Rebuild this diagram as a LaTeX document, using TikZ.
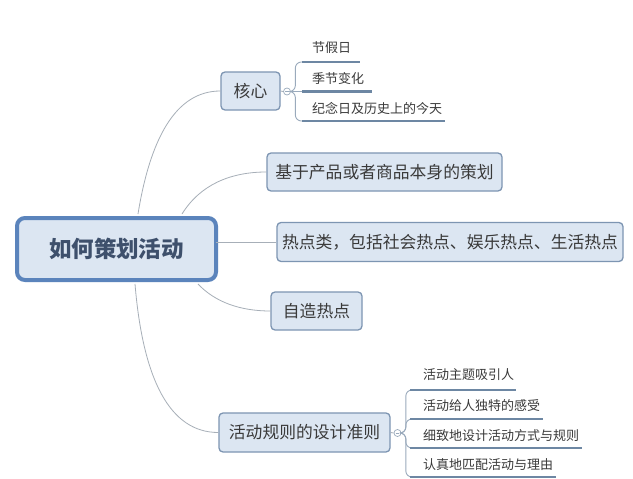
\documentclass[tikz,border=0pt]{standalone}
\usepackage{fontspec}
\newfontfamily\cjk{Noto Sans CJK SC}
\usetikzlibrary{calc}
\definecolor{boxfill}{HTML}{DCE6F2}
\definecolor{boxline}{HTML}{7D95B2}
\definecolor{mainline}{HTML}{5B84BC}
\definecolor{conn}{HTML}{A7AFB8}
\definecolor{fork}{HTML}{9AAABC}
\definecolor{uline}{HTML}{6D87A3}
\definecolor{txt}{HTML}{3A3A3A}
\definecolor{maintxt}{HTML}{3E506C}
\tikzset{
  topic/.style={draw=boxline, fill=boxfill, line width=1.3pt, rounded corners=4pt,
    inner sep=0pt, text=txt, font=\cjk\fontsize{16.8}{18}\selectfont},
  central/.style={draw=mainline, fill=boxfill, line width=4pt, rounded corners=8pt,
    inner sep=0pt, text=maintxt, font=\cjk\bfseries\fontsize{22.5}{24}\selectfont},
  sub/.style={anchor=west, inner sep=0pt, text=txt, font=\cjk\fontsize{13}{14}\selectfont},
  connector/.style={draw=conn, line width=0.8pt},
  forkline/.style={draw=fork, line width=0.9pt, rounded corners=6pt},
  under/.style={draw=uline, line width=2.3pt},
  toggle/.style={circle, draw=fork, fill=white, line width=0.7pt, minimum size=7pt, inner sep=0pt}
}
\begin{document}
\begin{tikzpicture}[x=1pt,y=-1pt]
\useasboundingbox (0,0) rectangle (633,479);
\fill[white] (0,0) rectangle (633,479);

% central
\node[central, minimum width=199pt, minimum height=62pt] (c) at (116.5,249) {如何策划活动};

% main topics
\node[topic, minimum width=59pt, minimum height=38pt] (core) at (250.5,91) {核心};
\node[topic, minimum width=235pt, minimum height=38pt] (base) at (384.5,172) {基于产品或者商品本身的策划};
\node[topic, minimum width=346pt, minimum height=39pt] (hot) at (450,242) {热点类，包括社会热点、娱乐热点、生活热点};
\node[topic, minimum width=91pt, minimum height=38pt] (self) at (316.5,311) {自造热点};
\node[topic, minimum width=171pt, minimum height=39pt] (rule) at (304.5,432.5) {活动规则的设计准则};

% connectors from central
\draw[connector] ([xshift=21.5pt,yshift=2pt]c.north) .. controls (150,140) and (175,91) .. (core.west);
\draw[connector] ([xshift=65.5pt,yshift=2pt]c.north) .. controls (200,185) and (230,172) .. (base.west);
\coordinate (h0) at ([yshift=7pt,xshift=-2pt]c.east);
\draw[connector] (h0) -- (h0 -| hot.west);
\draw[connector] ([xshift=81.5pt,yshift=-2pt]c.south) .. controls (215,302) and (240,311) .. (self.west);
\draw[connector] ([xshift=18.5pt,yshift=-2pt]c.south) .. controls (143,380) and (170,432.5) .. (rule.west);

% core sub topics
\node[toggle] (t1) at (287,91.5) {};
\draw[fork, line width=0.6pt] ([xshift=-1.8pt]t1.center) -- ([xshift=1.8pt]t1.center);
\draw[connector] (core.east) -- (t1.west);
\coordinate (a1) at (302,62);  \coordinate (a1e) at (360,62);
\coordinate (a2) at (302,91.5);  \coordinate (a2e) at (372,91.5);
\coordinate (a3) at (302,121); \coordinate (a3e) at (445,121);
\draw[forkline] (t1.east) -- ++(4.5,0) |- (a1);
\draw[forkline] (t1.east) -- (a2);
\draw[forkline] (t1.east) -- ++(4.5,0) |- (a3);
\draw[under] (a1) -- (a1e);
\draw[under] (a2) -- (a2e);
\draw[under] (a3) -- (a3e);
\node[sub] (s1) at (312,48) {节假日};
\node[sub] (s2) at (312,78.5) {季节变化};
\node[sub] (s3) at (312,108) {纪念日及历史上的今天};

% rule sub topics
\node[toggle] (t2) at (397.5,433) {};
\draw[fork, line width=0.6pt] ([xshift=-1.8pt]t2.center) -- ([xshift=1.8pt]t2.center);
\draw[connector] (rule.east) -- (t2.west);
\coordinate (b1) at (410,390); \coordinate (b1e) at (516,390);
\coordinate (b2) at (410,419); \coordinate (b2e) at (543,419);
\coordinate (b3) at (410,448); \coordinate (b3e) at (582,448);
\coordinate (b4) at (410,477); \coordinate (b4e) at (556,477);
\draw[forkline] (t2.east) -- ++(4.5,0) |- (b1);
\draw[forkline] (t2.east) -- ++(4.5,0) |- (b2);
\draw[forkline] (t2.east) -- ++(4.5,0) |- (b3);
\draw[forkline] (t2.east) -- ++(4.5,0) |- (b4);
\draw[under] (b1) -- (b1e);
\draw[under] (b2) -- (b2e);
\draw[under] (b3) -- (b3e);
\draw[under] (b4) -- (b4e);
\node[sub] (r1) at (423,375) {活动主题吸引人};
\node[sub] (r2) at (423,406) {活动给人独特的感受};
\node[sub] (r3) at (423,435.5) {细致地设计活动方式与规则};
\node[sub] (r4) at (423,465) {认真地匹配活动与理由};
\end{tikzpicture}
\end{document}
